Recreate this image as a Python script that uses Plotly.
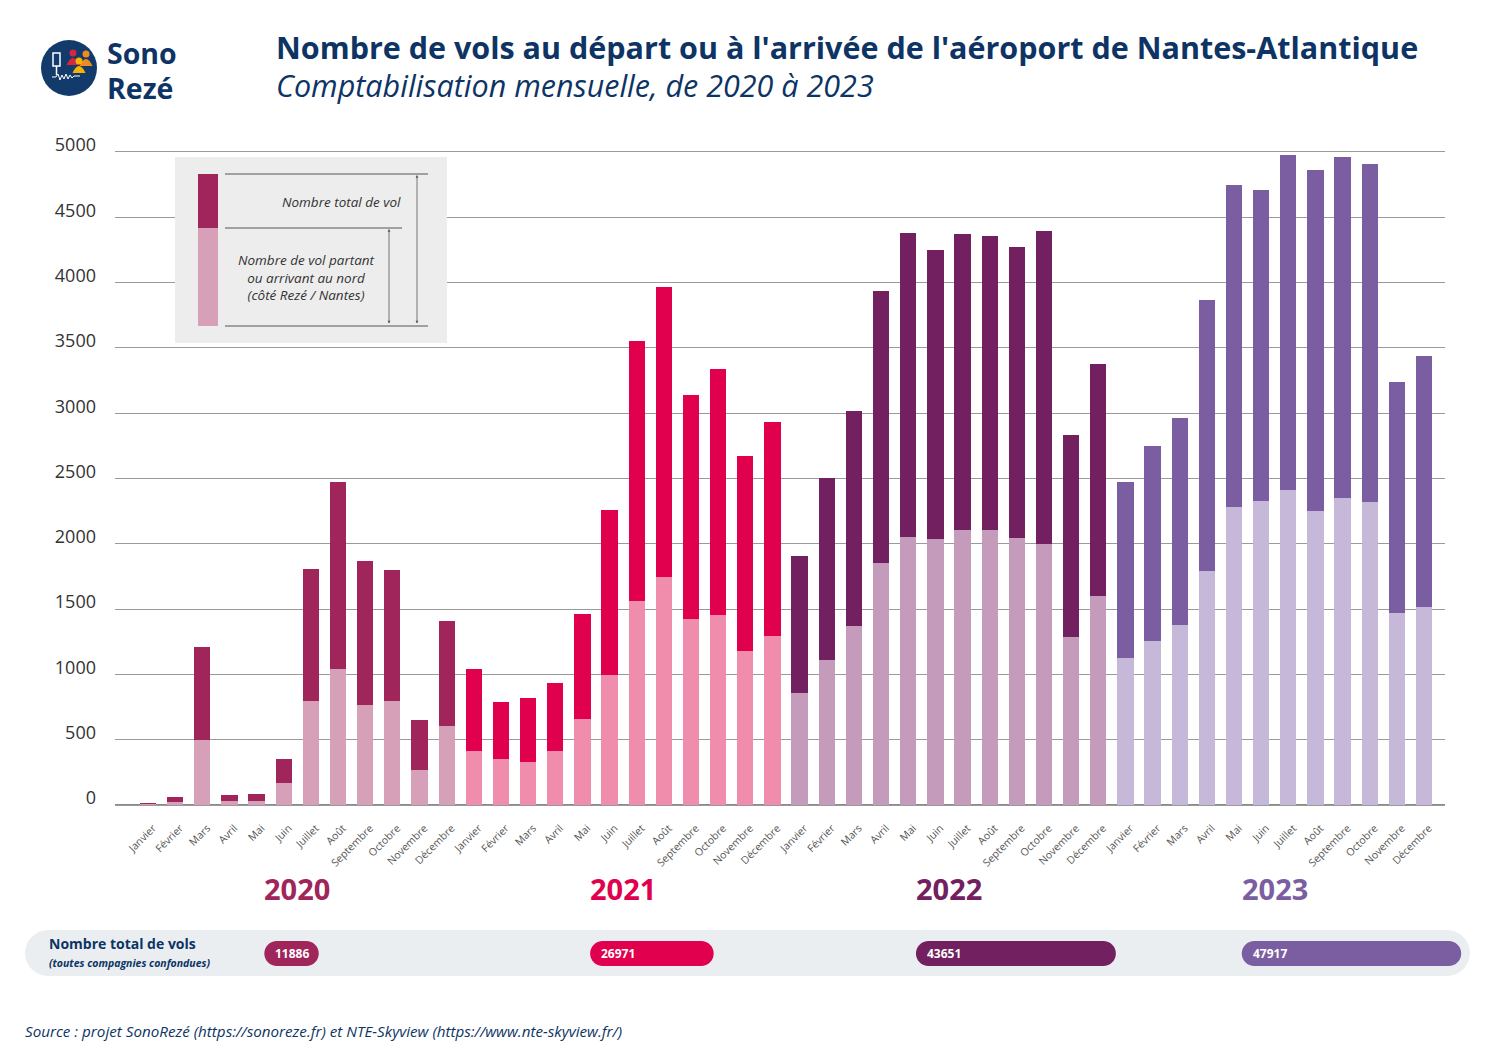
import plotly.graph_objects as go
import math

# ---------------- DATA ----------------
years = ["2020", "2021", "2022", "2023"]
months = ["Janvier", "Février", "Mars", "Avril", "Mai", "Juin", "Juillet", "Août",
          "Septembre", "Octobre", "Novembre", "Décembre"]

total_2020 = [15, 61, 1210, 79, 84, 355, 1807, 2473, 1868, 1799, 651, 1409]
north_2020 = [5, 20, 495, 31, 31, 166, 794, 1044, 768, 799, 270, 605]
total_2021 = [1041, 789, 819, 934, 1462, 2259, 3553, 3966, 3139, 3338, 2672, 2933]
north_2021 = [413, 352, 329, 413, 659, 995, 1562, 1746, 1424, 1455, 1179, 1294]
total_2022 = [1907, 2504, 3017, 3936, 4380, 4250, 4372, 4357, 4273, 4395, 2833, 3377]
north_2022 = [858, 1110, 1371, 1853, 2052, 2037, 2106, 2106, 2044, 1998, 1286, 1600]
total_2023 = [2473, 2749, 2963, 3867, 4747, 4709, 4977, 4862, 4962, 4908, 3239, 3438]
north_2023 = [1126, 1256, 1378, 1792, 2282, 2328, 2412, 2251, 2351, 2320, 1470, 1516]

year_totals = [11886, 26971, 43651, 47917]

dark_colors = ["#A0255B", "#E0004D", "#722060", "#7B5EA1"]
light_colors = ["#D6A0B8", "#F08CAC", "#C49BBA", "#C6B8D8"]

totals = total_2020 + total_2021 + total_2022 + total_2023
norths = north_2020 + north_2021 + north_2022 + north_2023
labels = months * 4
xs = list(range(len(totals)))
dark_per_bar = [dark_colors[i // 12] for i in xs]
light_per_bar = [light_colors[i // 12] for i in xs]

NAVY = "#0D3464"
FONT = "Open Sans"

# ---------------- GEOMETRY ----------------
W_FIG, H_FIG = 1500, 1060
L, R, T, B = 115, 55, 152, 255
PW = W_FIG - L - R
PH = H_FIG - T - B
XMIN, XMAX = -1.215, 47.77
PX_PER_X = PW / (XMAX - XMIN)


def px(xp):
    return (xp - L) / PW


def py(yp):
    return (H_FIG - B - yp) / PH


def x_to_px(xv):
    return L + (xv - XMIN) * PX_PER_X


fig = go.Figure()
fig.add_trace(go.Bar(x=xs, y=totals, marker=dict(color=dark_per_bar, line=dict(width=0)),
                     width=0.6, name="Nombre total de vol", hoverinfo="x+y"))
fig.add_trace(go.Bar(x=xs, y=norths, marker=dict(color=light_per_bar, line=dict(width=0)),
                     width=0.6, name="Nord", hoverinfo="x+y"))

shapes = []
annotations = []

# ---------- Legend box ----------
shapes.append(dict(type="rect", xref="paper", yref="paper", x0=px(175), x1=px(447), y0=py(343), y1=py(157),
                   fillcolor="#EDEDED", line=dict(width=0), layer="above"))
shapes.append(dict(type="rect", xref="paper", yref="paper", x0=px(198), x1=px(218), y0=py(228), y1=py(174),
                   fillcolor=dark_colors[0], line=dict(width=0), layer="above"))
shapes.append(dict(type="rect", xref="paper", yref="paper", x0=px(198), x1=px(218), y0=py(326), y1=py(228),
                   fillcolor=light_colors[0], line=dict(width=0), layer="above"))
for (a, b, yy) in [(225, 428, 174), (225, 402, 228), (225, 428, 326)]:
    shapes.append(dict(type="line", xref="paper", yref="paper", x0=px(a), x1=px(b), y0=py(yy), y1=py(yy),
                       line=dict(color="#555555", width=1), layer="above"))
for (xx, y0, y1) in [(417, 175, 325), (389, 229, 325)]:
    annotations.append(dict(xref="paper", yref="paper", x=px(xx), y=py(y0), ax=0, ay=y1 - y0,
                            axref="pixel", ayref="pixel", text="", showarrow=True,
                            arrowside="end+start", arrowhead=2, arrowsize=0.7, arrowwidth=0.8,
                            arrowcolor="#555555"))
annotations.append(dict(xref="paper", yref="paper", x=px(403), y=py(202), text="<i>Nombre total de vol</i>",
                        showarrow=False, xanchor="right", yanchor="middle",
                        font=dict(family=FONT, size=13.5, color="#333333")))
annotations.append(dict(xref="paper", yref="paper", x=px(306), y=py(277),
                        text="<i>Nombre de vol partant<br>ou arrivant au nord<br>(côté Rezé / Nantes)</i>",
                        showarrow=False, xanchor="center", yanchor="middle", align="center",
                        font=dict(family=FONT, size=13.5, color="#333333")))

# ---------- Year labels ----------
for i, yr in enumerate(years):
    annotations.append(dict(xref="x", yref="paper", x=12 * i + 5.5, y=py(888), text="<b>%s</b>" % yr,
                            showarrow=False, xanchor="center", yanchor="middle",
                            font=dict(family=FONT, size=29, color=dark_colors[i])))

# ---------- Bottom panel ----------
def stadium_px(x0, x1, y0, y1, n=16):
    """Pill in pixel coordinates -> path in paper coords."""
    r = (y1 - y0) / 2
    cy = (y0 + y1) / 2
    pts = []
    for k in range(n + 1):
        a = -math.pi / 2 + math.pi * k / n
        pts.append((x1 - r + r * math.cos(a), cy + r * math.sin(a)))
    for k in range(n + 1):
        a = math.pi / 2 + math.pi * k / n
        pts.append((x0 + r + r * math.cos(a), cy + r * math.sin(a)))
    return "M " + " L ".join("%.5f,%.5f" % (px(a), py(b)) for a, b in pts) + " Z"


shapes.append(dict(type="path", xref="paper", yref="paper", path=stadium_px(25, 1470, 930, 976),
                   fillcolor="#EBEEF1", line=dict(width=0), layer="above"))
annotations.append(dict(xref="paper", yref="paper", x=px(47), y=py(943), text="<b>Nombre total de vols</b>",
                        showarrow=False, xanchor="left", yanchor="middle",
                        font=dict(family=FONT, size=14, color=NAVY)))
annotations.append(dict(xref="paper", yref="paper", x=px(47), y=py(963),
                        text="<b><i>(toutes compagnies confondues)</i></b>",
                        showarrow=False, xanchor="left", yanchor="middle",
                        font=dict(family=FONT, size=10.5, color=NAVY)))
PILL_SCALE = 0.00458  # px per flight
for i, tot in enumerate(year_totals):
    start_px = x_to_px(12 * i + 5.5) - 33
    wpx = max(tot * PILL_SCALE, 54)
    shapes.append(dict(type="path", xref="paper", yref="paper",
                       path=stadium_px(start_px, start_px + wpx, 941, 966),
                       fillcolor=dark_colors[i], line=dict(width=0), layer="above"))
    annotations.append(dict(xref="paper", yref="paper", x=px(start_px + 9), y=py(953.5),
                            text="<b>%d</b>" % tot, showarrow=False, xanchor="left", yanchor="middle",
                            font=dict(family=FONT, size=12, color="white")))

# ---------- Title ----------
annotations.append(dict(xref="paper", yref="paper", x=px(274), y=py(47),
                        text="<b>Nombre de vols au départ ou à l'arrivée de l'aéroport de Nantes-Atlantique</b>",
                        showarrow=False, xanchor="left", yanchor="middle",
                        font=dict(family=FONT, size=30.5, color=NAVY)))
annotations.append(dict(xref="paper", yref="paper", x=px(274), y=py(85),
                        text="<i>Comptabilisation mensuelle, de 2020 à 2023</i>",
                        showarrow=False, xanchor="left", yanchor="middle",
                        font=dict(family=FONT, size=30.5, color=NAVY)))

# ---------- Source ----------
annotations.append(dict(xref="paper", yref="paper", x=px(23), y=py(1031),
                        text="<i>Source : projet SonoRezé (https://sonoreze.fr) et NTE-Skyview (https://www.nte-skyview.fr/)</i>",
                        showarrow=False, xanchor="left", yanchor="middle",
                        font=dict(family=FONT, size=15.2, color=NAVY)))

# ---------- Logo ----------
shapes.append(dict(type="circle", xref="paper", yref="paper", x0=px(41), x1=px(97), y0=py(96), y1=py(40),
                   fillcolor="#123B6B", line=dict(width=0), layer="above"))
shapes.append(dict(type="path", xref="paper", yref="paper",
                   path="M %f,%f L %f,%f L %f,%f L %f,%f Z" % (px(53), py(53), px(53), py(66), px(60), py(66), px(60), py(53)),
                   fillcolor="rgba(0,0,0,0)", line=dict(color="white", width=1.5), layer="above"))
shapes.append(dict(type="line", xref="paper", yref="paper", x0=px(56.5), x1=px(56.5), y0=py(66), y1=py(75),
                   line=dict(color="white", width=1.5), layer="above"))
wave = [(52, 77), (56, 77), (58, 74), (60, 80), (62, 75), (64, 79), (66, 74), (68, 79), (70, 75), (72, 78), (74, 76), (80, 76)]
shapes.append(dict(type="path", xref="paper", yref="paper",
                   path="M " + " L ".join("%f,%f" % (px(a), py(b)) for a, b in wave),
                   fillcolor="rgba(0,0,0,0)", line=dict(color="white", width=1), layer="above"))
for (cx, cy, col) in [(73, 53, "#D7263D"), (86, 54, "#F08A24"), (79, 61, "#F6B400")]:
    shapes.append(dict(type="circle", xref="paper", yref="paper", x0=px(cx - 3.5), x1=px(cx + 3.5),
                       y0=py(cy + 3.5), y1=py(cy - 3.5), fillcolor=col, line=dict(width=0), layer="above"))
    shapes.append(dict(type="path", xref="paper", yref="paper",
                       path="M %f,%f Q %f,%f %f,%f Z" % (px(cx - 6.5), py(cy + 12), px(cx), py(cy - 2), px(cx + 6.5), py(cy + 12)),
                       fillcolor=col, line=dict(width=0), layer="above"))
annotations.append(dict(xref="paper", yref="paper", x=px(106), y=py(52.5), text="<b>Sono</b>",
                        showarrow=False, xanchor="left", yanchor="middle", borderpad=0,
                        font=dict(family=FONT, size=28.5, color=NAVY)))
annotations.append(dict(xref="paper", yref="paper", x=px(106), y=py(88), text="<b>Rezé</b>",
                        showarrow=False, xanchor="left", yanchor="middle", borderpad=0,
                        font=dict(family=FONT, size=28.5, color=NAVY)))

fig.update_layout(
    width=W_FIG, height=H_FIG,
    margin=dict(l=L, r=R, t=T, b=B, pad=0),
    paper_bgcolor="white", plot_bgcolor="white",
    barmode="overlay", bargap=0,
    showlegend=False,
    font=dict(family=FONT, color="#333333"),
    shapes=shapes, annotations=annotations,
    xaxis=dict(range=[XMIN, XMAX], tickmode="array", tickvals=xs, ticktext=labels,
               tickangle=-45, tickfont=dict(family=FONT, size=10.5, color="#555555"),
               showgrid=False, zeroline=False, showline=True, mirror=True,
               linecolor="#9A9A9A", linewidth=1, ticks="",
               ticklabelstandoff=12, ticklabelshift=5),
    yaxis=dict(range=[0, 5000], tickmode="array", tickvals=list(range(0, 5001, 500)),
               tickfont=dict(family=FONT, size=18, color="#333333"),
               showgrid=True, gridcolor="#9A9A9A", gridwidth=1,
               zeroline=True, zerolinecolor="#8A8A8A", zerolinewidth=1.5,
               showline=False, ticks="", ticklabelstandoff=18, ticklabelshift=-7),
)

fig.write_html("out.html", config={"displayModeBar": False},
               post_script="document.body.style.margin='0';document.body.style.overflow='hidden';")
